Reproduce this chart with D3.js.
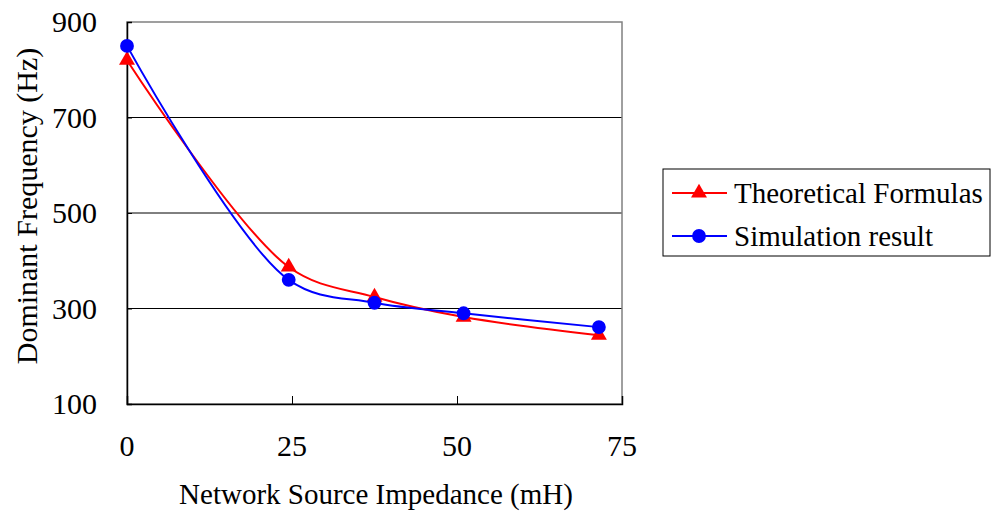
<!DOCTYPE html>
<html><head><meta charset="utf-8">
<script src="https://cdn.jsdelivr.net/npm/d3@7"></script>
<style>body{margin:0;background:#fff}svg{display:block}text{font-family:"Liberation Serif","Times New Roman",serif;fill:#000}</style>
</head><body><svg id="c" width="992" height="513"></svg>
<script>
const impedance = [0, 24.5, 37.5, 51, 71.5];
const theoretical = [820, 387, 324, 282, 244];
const simulation = [850, 360, 312, 290, 261];
const xTicks = [0, 25, 50, 75];
const yTicks = [100, 300, 500, 700, 900];
const seriesNames = ["Theoretical Formulas", "Simulation result"];

const svg = d3.select("#c");
const L = 127, R = 622, T = 22, B = 404;
const x = d3.scaleLinear().domain([0, 75]).range([L, R]);
const y = d3.scaleLinear().domain([100, 900]).range([B, T]);
const FS = 30;

svg.append("g").selectAll("line").data(yTicks.filter(v => v > 100 && v < 900)).join("line")
  .attr("x1", L).attr("x2", R).attr("y1", d => y(d)).attr("y2", d => y(d))
  .attr("stroke", "#000").attr("stroke-width", 1);
svg.append("rect").attr("x", L).attr("y", T).attr("width", R - L).attr("height", B - T)
  .attr("fill", "none").attr("stroke", "#808080").attr("stroke-width", 1.5);

const yAx = svg.append("g").attr("transform", `translate(${L},0)`)
  .call(d3.axisRight(y).tickValues(yTicks).tickSize(5).tickFormat(""));
const xAx = svg.append("g").attr("transform", `translate(0,${B})`)
  .call(d3.axisTop(x).tickValues(xTicks).tickSize(8).tickFormat(""));
[yAx, xAx].forEach(a => { a.select(".domain").attr("stroke", "#000").attr("stroke-width", 1.5); a.selectAll(".tick line").attr("stroke", "#000"); });

svg.append("g").selectAll("text").data(yTicks).join("text")
  .attr("x", 97).attr("y", d => y(d) + 10).attr("text-anchor", "end")
  .attr("font-size", FS).text(d => d);
svg.append("g").selectAll("text").data(xTicks).join("text")
  .attr("x", d => x(d)).attr("y", 456).attr("text-anchor", "middle")
  .attr("font-size", FS).text(d => d);

svg.append("text").attr("x", 376).attr("y", 504).attr("text-anchor", "middle")
  .attr("font-size", 29).text("Network Source Impedance (mH)");
svg.append("text").attr("transform", "translate(37,206) rotate(-90)").attr("text-anchor", "middle")
  .attr("font-size", FS).text("Dominant Frequency (Hz)");

const line = d3.line().x(d => x(d[0])).y(d => y(d[1])).curve(d3.curveCatmullRom.alpha(0.5));
const series = [
  {name: seriesNames[0], vals: theoretical, color: "#ff0000", sym: d3.symbolTriangle},
  {name: seriesNames[1], vals: simulation, color: "#0000ff", sym: d3.symbolCircle}
];
const symSize = s => s === d3.symbolCircle ? 150 : 110;
series.forEach(s => {
  const pts = impedance.map((v, i) => [v, s.vals[i]]);
  svg.append("path").attr("d", line(pts)).attr("fill", "none").attr("stroke", s.color).attr("stroke-width", 2);
  svg.append("g").selectAll("path").data(pts).join("path")
    .attr("transform", d => `translate(${x(d[0])},${y(d[1])})`)
    .attr("d", d3.symbol().type(s.sym).size(symSize(s.sym)))
    .attr("fill", s.color);
});

const lg = svg.append("g");
lg.append("rect").attr("x", 663).attr("y", 169).attr("width", 327).attr("height", 87)
  .attr("fill", "#fff").attr("stroke", "#000").attr("stroke-width", 1);
series.forEach((s, i) => {
  const ly = 193 + i * 43;
  lg.append("line").attr("x1", 672).attr("x2", 727).attr("y1", ly).attr("y2", ly).attr("stroke", s.color).attr("stroke-width", 2);
  lg.append("path").attr("transform", `translate(699,${ly})`)
    .attr("d", d3.symbol().type(s.sym).size(symSize(s.sym))).attr("fill", s.color);
  lg.append("text").attr("x", 734).attr("y", ly + 10).attr("font-size", 29).text(s.name);
});
</script></body></html>
